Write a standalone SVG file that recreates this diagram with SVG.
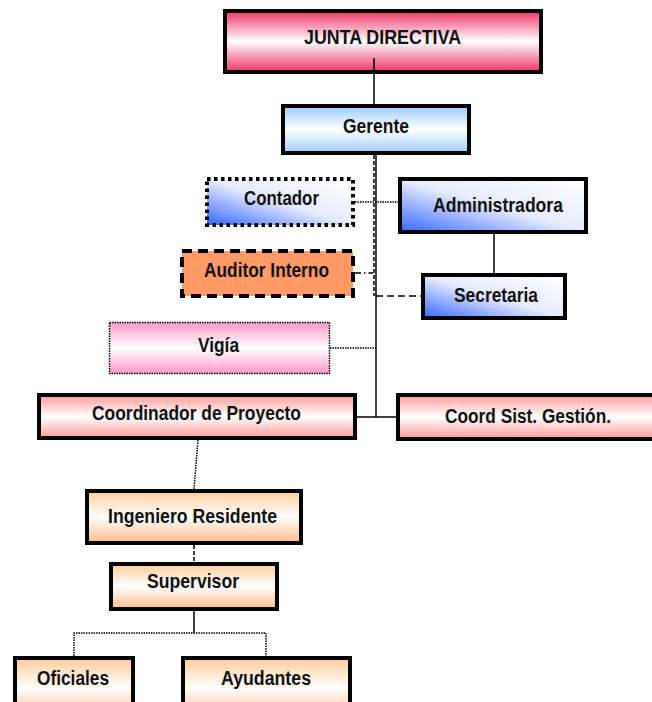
<svg xmlns="http://www.w3.org/2000/svg" width="652" height="702" viewBox="0 0 652 702">
<style>
text{font-family:"Liberation Sans",Arial,sans-serif;font-weight:bold;font-size:19.5px;fill:#111;text-anchor:middle}
.box{stroke:#000;stroke-width:4}
.ln{stroke:#000;stroke-width:1.5;fill:none}
.dot{stroke-dasharray:1.5 1}
.dash{stroke-dasharray:7 4}
</style>
<defs>
<linearGradient id="gRed" x1="0" y1="0" x2="0" y2="1"><stop offset="0" stop-color="#ee3366"/><stop offset="0.5" stop-color="#fff"/><stop offset="1" stop-color="#ee3366"/></linearGradient>
<linearGradient id="gBlueV" x1="0" y1="0" x2="0" y2="1"><stop offset="0" stop-color="#99ccff"/><stop offset="0.5" stop-color="#fff"/><stop offset="1" stop-color="#99ccff"/></linearGradient>
<linearGradient id="gBlueD" x1="0" y1="1" x2="1" y2="0"><stop offset="0" stop-color="#3366ff"/><stop offset="0.5" stop-color="#e6ecff"/><stop offset="1" stop-color="#fff"/></linearGradient>
<linearGradient id="gPink" x1="0" y1="0" x2="0" y2="1"><stop offset="0" stop-color="#ff99cc"/><stop offset="0.5" stop-color="#fff"/><stop offset="1" stop-color="#ff99cc"/></linearGradient>
<linearGradient id="gSalmon" x1="0" y1="0" x2="0" y2="1"><stop offset="0" stop-color="#ff9999"/><stop offset="0.5" stop-color="#fff"/><stop offset="1" stop-color="#ff9999"/></linearGradient>
<linearGradient id="gPeach" x1="0" y1="0" x2="0" y2="1"><stop offset="0" stop-color="#ffcc99"/><stop offset="0.5" stop-color="#fff"/><stop offset="1" stop-color="#ffbb88"/></linearGradient>
</defs>
<rect width="652" height="702" fill="#fff"/>
<g id="junta"><rect class="box" x="225" y="11" width="316" height="61" fill="url(#gRed)"/><text x="382.5" y="44" textLength="157" lengthAdjust="spacingAndGlyphs">JUNTA DIRECTIVA</text></g>
<g id="gerente"><rect class="box" x="283" y="106" width="186" height="47" fill="url(#gBlueV)"/><text x="376" y="133" textLength="66" lengthAdjust="spacingAndGlyphs">Gerente</text></g>
<g id="contador"><rect class="box" x="207" y="179" width="146" height="46" fill="url(#gBlueD)" stroke-dasharray="3.5 3.5"/><text x="281.5" y="205" textLength="75" lengthAdjust="spacingAndGlyphs">Contador</text></g>
<g id="administradora"><rect class="box" x="400" y="179" width="186" height="53" fill="url(#gBlueD)"/><text x="498" y="212" textLength="130" lengthAdjust="spacingAndGlyphs">Administradora</text></g>
<g id="auditor"><rect class="box" x="182" y="251" width="171" height="45" fill="#ff9966" stroke-dasharray="10 6"/><text x="266.5" y="277" textLength="125" lengthAdjust="spacingAndGlyphs">Auditor Interno</text></g>
<g id="secretaria"><rect class="box" x="423" y="275" width="142" height="43" fill="url(#gBlueD)"/><text x="496" y="302" textLength="84" lengthAdjust="spacingAndGlyphs">Secretaria</text></g>
<g id="vigia"><rect x="109.5" y="322.5" width="220" height="51" fill="url(#gPink)" stroke="#000" stroke-width="1.5" stroke-dasharray="1.5 1"/><text x="218.5" y="352" textLength="41" lengthAdjust="spacingAndGlyphs">Vigía</text></g>
<g id="coordinador"><rect class="box" x="39" y="395" width="316" height="43" fill="url(#gSalmon)"/><text x="196.5" y="420" textLength="209" lengthAdjust="spacingAndGlyphs">Coordinador de Proyecto</text></g>
<g id="coordsist"><rect class="box" x="398" y="395" width="262" height="44" fill="url(#gSalmon)"/><text x="528" y="423" textLength="166" lengthAdjust="spacingAndGlyphs">Coord Sist. Gestión.</text></g>
<g id="ingeniero"><rect class="box" x="87" y="491" width="214" height="52" fill="url(#gPeach)"/><text x="192.5" y="523" textLength="169" lengthAdjust="spacingAndGlyphs">Ingeniero Residente</text></g>
<g id="supervisor"><rect class="box" x="111" y="564" width="166" height="45" fill="url(#gPeach)"/><text x="193" y="588" textLength="92" lengthAdjust="spacingAndGlyphs">Supervisor</text></g>
<g id="oficiales"><rect class="box" x="15" y="658" width="118" height="60" fill="url(#gPeach)"/><text x="73" y="685" textLength="72" lengthAdjust="spacingAndGlyphs">Oficiales</text></g>
<g id="ayudantes"><rect class="box" x="183" y="658" width="167" height="60" fill="url(#gPeach)"/><text x="266" y="685" textLength="90" lengthAdjust="spacingAndGlyphs">Ayudantes</text></g>
<g id="connectors">
<line class="ln" x1="374" y1="58" x2="374" y2="104"/>
<line class="ln" x1="376" y1="155" x2="376" y2="417"/>
<line class="ln" x1="374" y1="155" x2="374" y2="296" stroke-dasharray="4 2"/>
<line class="ln dot" x1="355" y1="202" x2="398" y2="202"/>
<line class="ln" x1="355" y1="273" x2="373" y2="273" stroke-dasharray="6 3 1.5 3"/>
<line class="ln dash" x1="376" y1="296" x2="421" y2="296"/>
<line class="ln" x1="494" y1="234" x2="494" y2="273"/>
<line class="ln dot" x1="330" y1="348" x2="376" y2="348"/>
<line class="ln" x1="357" y1="417" x2="396" y2="417"/>
<line class="ln dot" x1="198" y1="440" x2="194" y2="489"/>
<line class="ln" x1="194" y1="545" x2="194" y2="562" stroke-dasharray="4 2"/>
<line class="ln" x1="194" y1="611" x2="194" y2="633"/>
<polyline class="ln dot" points="74,656 74,633 266,633 266,656"/>
</g>
</svg>
